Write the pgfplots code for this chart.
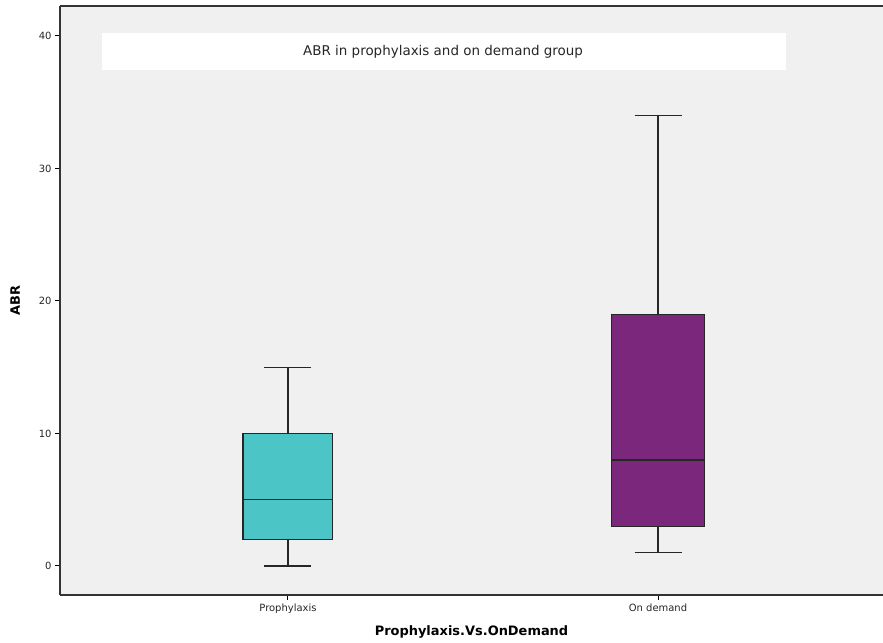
\documentclass[border=0pt]{standalone}
\usepackage{pgfplots}
\pgfplotsset{compat=1.18}
\usepgfplotslibrary{statistics}
\usepackage{fontspec}
\setmainfont{DejaVu Sans}
\definecolor{bg}{HTML}{F0F0F0}
\definecolor{teal}{HTML}{4CC5C6}
\definecolor{purp}{HTML}{7B287C}
\begin{document}
\begin{tikzpicture}
\begin{axis}[
  name=ax,
  scale only axis,
  width=823bp, height=589bp,
  xmin=0.384, xmax=2.608,
  ymin=-2.19, ymax=42.26,
  axis background/.style={fill=bg},
  axis x line=box, axis y line=left,
  axis line style={-, line width=1.1pt, black!80},
  xtick={1,2}, xticklabels={Prophylaxis, On demand},
  ytick={0,10,20,30,40},
  tick align=outside,
  major tick length=5bp,
  tick style={black, line width=1pt},
  xtick pos=bottom, ytick pos=left,
  tick label style={font=\fontsize{10}{11}\selectfont, text=black!85},
  /pgf/number format/assume math mode=true,
  xlabel={\textbf{Prophylaxis.Vs.OnDemand}},
  ylabel={\textbf{ABR}},
  label style={font=\fontsize{13}{15}\selectfont},
  xlabel style={yshift=-6bp},
  ylabel style={yshift=12bp},
  boxplot/draw direction=y,
  clip=false,
]
\fill[white] (axis cs:0.4975,37.43) rectangle (axis cs:2.346,40.23);
\node[font=\fontsize{13.5}{15}\selectfont, text=black!85] at (axis cs:1.419,38.83) {ABR in prophylaxis and on demand group};
\addplot[boxplot prepared={draw position=1, lower whisker=0, lower quartile=2, median=5, upper quartile=10, upper whisker=15, box extend=0.243, whisker extend=0.127}, draw=black!85, line width=1.1pt, fill=teal] coordinates {};
\addplot[boxplot prepared={draw position=2, lower whisker=1, lower quartile=3, median=8, upper quartile=19, upper whisker=34, box extend=0.25, whisker extend=0.127}, draw=black!85, line width=1.1pt, fill=purp] coordinates {};
\end{axis}
\pgfresetboundingbox
\path ([xshift=-60bp,yshift=-48bp]ax.south west) rectangle ([yshift=6bp]ax.north east);
\end{tikzpicture}
\end{document}
